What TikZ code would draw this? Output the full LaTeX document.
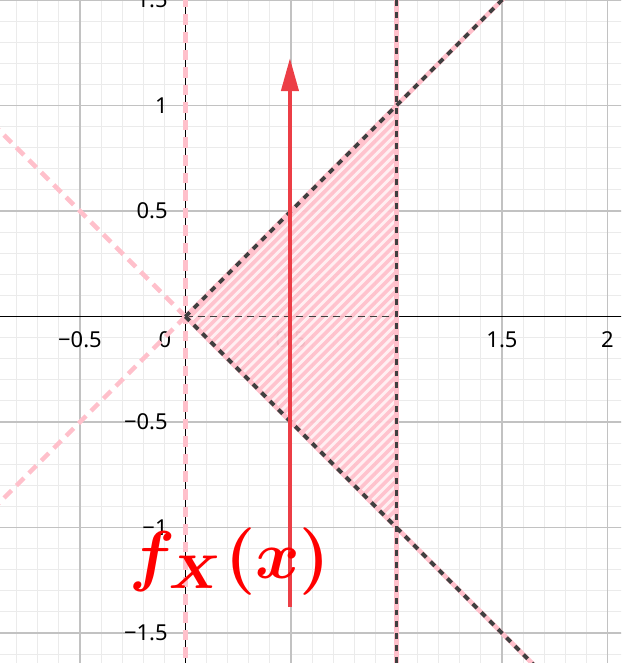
\documentclass[tikz,border=0pt]{standalone}
\usepackage{amsmath,bm}
\usepackage{fontspec}
\setsansfont{Noto Sans}
\usepackage{tikz}
\usetikzlibrary{arrows.meta}
\definecolor{hatchpink}{RGB}{255,192,203}
\definecolor{edgegray}{RGB}{64,64,64}
\definecolor{arrowred}{RGB}{236,62,70}
\tikzset{
  minorgrid/.style = {black!8, line width=0.5pt},
  majorgrid/.style = {black!24, line width=0.7pt},
  axis/.style      = {black, line width=1.1pt},
  ticklbl/.style   = {font=\sffamily\fontsize{12.5}{14}\selectfont, inner sep=0pt},
  pinkdash/.style  = {hatchpink, line width=2.6pt, dash pattern=on 6pt off 4pt},
  pinkline/.style  = {hatchpink, line width=2.6pt},
  darkdash/.style  = {edgegray, line width=2.2pt, dash pattern=on 3.4pt off 3.4pt},
  thindash/.style  = {edgegray, line width=0.7pt, dash pattern=on 4pt off 3pt},
  arr/.style       = {-{Triangle[length=6.6mm,width=3.4mm]}, arrowred, line width=2.3pt},
}

\begin{document}
\begin{tikzpicture}[x=4.22cm, y=4.22cm]
  \useasboundingbox (-0.879,-1.642) rectangle (2.064,1.5);
  \clip (-0.879,-1.642) rectangle (2.064,1.5);

  % grid
  \foreach \i in {-9,...,21} \draw[minorgrid] (\i/10,-1.7) -- (\i/10,1.6);
  \foreach \j in {-17,...,16} \draw[minorgrid] (-0.9,\j/10) -- (2.1,\j/10);
  \foreach \i in {-0.5,0.5,1,1.5,2} \draw[majorgrid] (\i,-1.7) -- (\i,1.6);
  \foreach \j in {-1.5,-1,-0.5,0.5,1,1.5} \draw[majorgrid] (-0.9,\j) -- (2.1,\j);

  % axes
  \draw[axis] (-0.9,0) -- (2.1,0);
  \draw[axis] (0,-1.7) -- (0,1.6);

  % tick labels
  \foreach \v/\t in {-0.5/−0.5, 0.5/0.5, 1/1, 1.5/1.5, 2/2}
    \node[ticklbl] (xl\t) at (\v,-0.11) {\t};
  \node[ticklbl] (xl0) at (-0.097,-0.11) {0};
  \foreach \v/\t in {1.5/1.5, 1/1, 0.5/0.5, -0.5/−0.5, -1/−1, -1.5/−1.5}
    \node[ticklbl, anchor=east] (yl\t) at (-0.083,\v) {\t};

  \coordinate (O) at (0,0);
  \coordinate (A) at (1,1);
  \coordinate (B) at (1,-1);

  % hatched triangle
  \begin{scope}
    \clip (O) -- (A) -- (B) -- cycle;
    \fill[hatchpink, opacity=0.95] (O) -- (A) -- (B) -- cycle;
    \foreach \s in {-1,-0.955,...,1.05}
      \draw[white, opacity=0.75, line width=1.6pt] (\s,-1) -- ++(2,2);
  \end{scope}
  \draw[thindash] (O) -- (1,0);

  % lines
  \draw[pinkdash] (O) -- (-0.9,0.9);
  \draw[pinkdash] (O) -- (-0.9,-0.9);
  \draw[pinkdash] (0,-1.7) -- (0,1.6);
  \draw[pinkline] (O) -- (1.6,1.6);
  \draw[pinkline] (O) -- (1.7,-1.7);
  \draw[pinkline] (1,-1.7) -- (1,1.6);
  \draw[darkdash] (O) -- (1.6,1.6);
  \draw[darkdash] (O) -- (1.7,-1.7);
  \draw[darkdash] (1,-1.7) -- (1,1.6);

  % density arrow and label
  \coordinate (arrbot) at (0.495,-1.377);
  \coordinate (arrtop) at (0.495,1.225);
  \draw[arr] (arrbot) -- (arrtop);
  \node[text=red, scale=3.85, inner sep=0pt] (fx) at (0.211,-1.163) {$\bm{f_X(x)}$};
\end{tikzpicture}
\end{document}
